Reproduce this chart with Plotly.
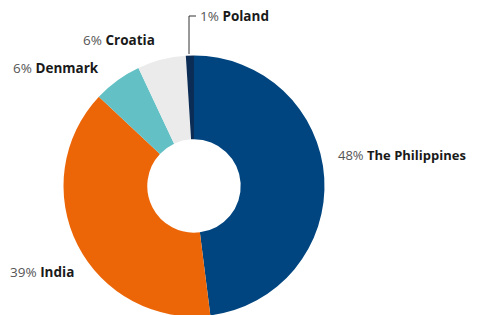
import plotly.graph_objects as go

countries = ["The Philippines", "India", "Denmark", "Croatia", "Poland"]
shares = [48, 39, 6, 6, 1]
colors = ["#00457f", "#ec6608", "#63c1c6", "#ebebeb", "#0b2d55"]

W, H = 477, 315
OFF = 8  # page body margin offset
cx, cy, r = 194 - OFF, 186 - OFF, 130.5

fig = go.Figure(go.Pie(
    labels=countries, values=shares, sort=False, direction="clockwise", rotation=0,
    hole=0.358, textinfo="none", hoverinfo="label+percent",
    marker=dict(colors=colors, line=dict(color="#ffffff", width=0)),
    domain=dict(x=[(cx - r) / W, (cx + r) / W], y=[(H - cy - r) / H, (H - cy + r) / H]),
))

# label positions (page pixels), anchors, font sizes
label_pos = {
    "The Philippines": (336, 155, "left", 13),
    "India": (8, 272, "left", 13.5),
    "Denmark": (101, 68, "right", 13.5),
    "Croatia": (157, 40, "right", 13.5),
    "Poland": (198, 16, "left", 13.5),
}
for name, val in zip(countries, shares):
    px, py, anchor, fs = label_pos[name]
    fig.add_annotation(
        x=(px - OFF) / W, y=1 - (py - OFF) / H, xref="paper", yref="paper",
        xanchor=anchor, yanchor="middle", showarrow=False,
        text=f"<span style='color:#555555'>{val}%</span> <b>{name}</b>",
        font=dict(family="Open Sans", size=fs, color="#1a1a1a"),
    )

def P(x, y):
    return f"{(x - OFF) / W} {1 - (y - OFF) / H}"

fig.add_shape(type="path", xref="paper", yref="paper",
              path=f"M {P(189, 54)} L {P(189, 16)} L {P(196, 16)}",
              line=dict(color="#333333", width=1))

fig.update_layout(width=W, height=H, margin=dict(l=0, r=0, t=0, b=0),
                  showlegend=False, paper_bgcolor="white", plot_bgcolor="white")
fig.write_html("out.html")
